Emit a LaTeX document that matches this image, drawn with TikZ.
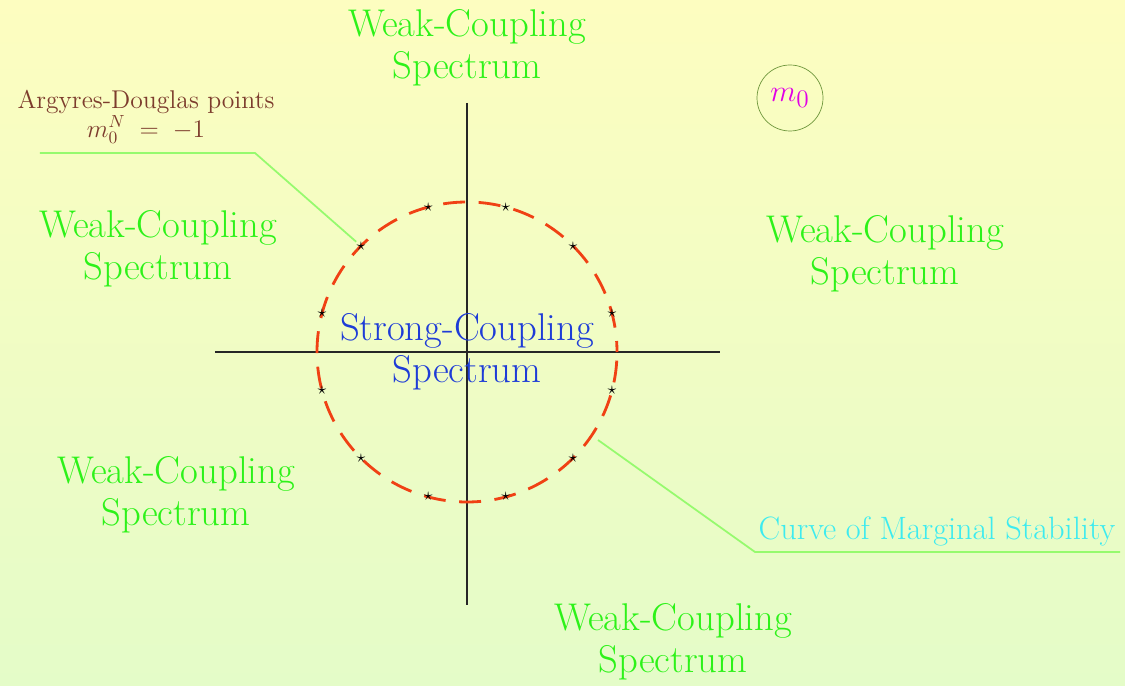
\documentclass[tikz,border=0pt]{standalone}
\usetikzlibrary{positioning}
\definecolor{weakgreen}{RGB}{45,242,25}
\definecolor{strongblue}{RGB}{30,60,215}
\definecolor{adbrown}{RGB}{125,60,45}
\definecolor{msblue}{RGB}{60,235,240}
\definecolor{leadgreen}{RGB}{150,250,110}
\definecolor{cmsred}{RGB}{240,65,20}
\definecolor{ringgreen}{RGB}{110,150,60}
\definecolor{mzero}{RGB}{225,0,230}
\definecolor{bgtop}{RGB}{253,253,192}
\definecolor{bgbottom}{RGB}{228,252,200}
\tikzset{
  weak/.style={text=weakgreen, align=center, font=\fontsize{22}{24}\selectfont},
  strong/.style={text=strongblue, align=center, font=\fontsize{22}{24}\selectfont},
  leader/.style={leadgreen, line width=1pt},
  pt/.style={inner sep=0pt, font=\normalsize}
}
\begin{document}
\begin{tikzpicture}
\shade[top color=bgtop, bottom color=bgbottom] (-9.34,7.04) rectangle (13.16,-6.68);
\useasboundingbox (-9.34,7.04) rectangle (13.16,-6.68);

\coordinate (O) at (0,0);
\coordinate (L) at (-5.04,0);
\coordinate (R) at (5.06,0);
\coordinate (T) at (0,4.98);
\coordinate (B) at (0,-5.06);

% axes
\draw[black!85, line width=0.8pt] (L) -- (R);
\draw[black!85, line width=0.8pt] (T) -- (B);

% curve of marginal stability
\draw[cmsred, line width=1.6pt, dash pattern=on 0.44cm off 0.27cm, dash phase=0.22cm] (O) circle (3);

% Argyres-Douglas points
\foreach \i in {0,...,11}
  \node[pt] (s\i) at ({15+30*\i}:3) {$\star$};

% labels
\node[weak] (wt) at (0,6.08) {Weak-Coupling\\Spectrum};
\node[weak] (wl) at (-6.18,2.06) {Weak-Coupling\\Spectrum};
\node[weak] (wr) at (8.36,1.96) {Weak-Coupling\\Spectrum};
\node[weak] (wll) at (-5.82,-2.86) {Weak-Coupling\\Spectrum};
\node[weak] (wb) at (4.12,-5.8) {Weak-Coupling\\Spectrum};
\node[strong] (sc) at (0,0) {Strong-Coupling\\Spectrum};

\node[text=adbrown, align=center, font=\fontsize{14.6}{16}\selectfont] (ad) at (-6.42,4.7) {Argyres-Douglas points\\$m_0^N\;=\;-1$};

\node[draw=ringgreen, circle, minimum size=1.32cm, inner sep=0pt, text=mzero, font=\fontsize{19}{20}\selectfont] (m) at (6.46,5.08) {$m_0$};

% leader lines
\coordinate (a1) at (-8.54,3.98);
\coordinate (a2) at (-4.24,3.98);
\draw[leader] (a1) -- (a2) -- (s4);

\coordinate (c1) at (2.62,-1.76);
\coordinate (c2) at (5.76,-4.0);
\coordinate (c3) at (13.06,-4.0);
\draw[leader] (c1) -- (c2) -- (c3);
\node[text=msblue, font=\fontsize{18.4}{20}\selectfont, anchor=base] (ms) at (9.4,-3.74) {Curve of Marginal Stability};
\end{tikzpicture}
\end{document}
